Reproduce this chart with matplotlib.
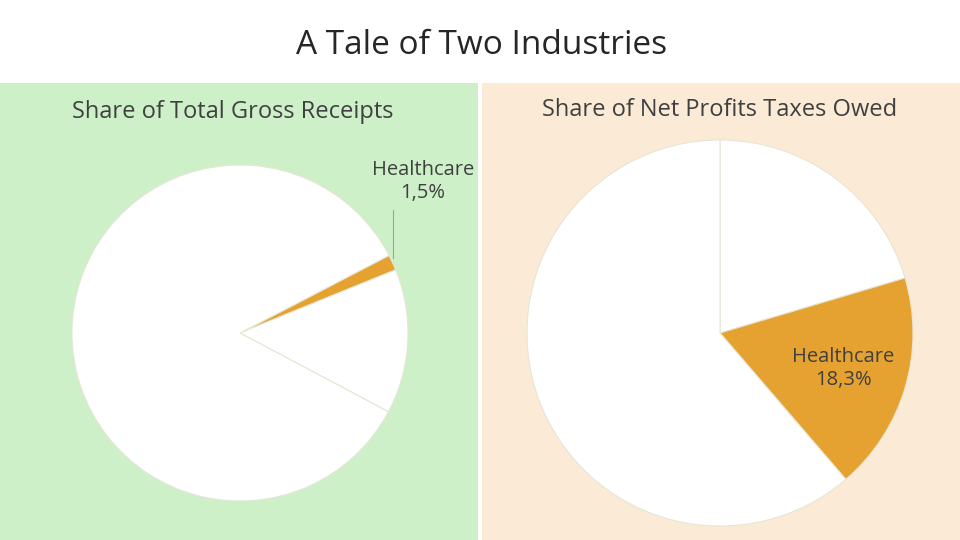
import matplotlib.pyplot as plt
from matplotlib.patches import Rectangle

plt.rcParams['font.family'] = ['Open Sans', 'DejaVu Sans']

gross_labels = ['Healthcare', 'Other industry', 'Rest']
gross_share = [1.5, 13.9, 84.6]
taxes_labels = ['Other industry', 'Healthcare', 'Rest']
taxes_share = [20.4, 18.3, 61.3]

orange = '#E5A230'
green_bg = '#CDF0C8'
beige_bg = '#FBEAD5'
edge = '#E6E6D6'

W, H = 960, 540
fig = plt.figure(figsize=(9.6, 5.4), dpi=100)
fig.patch.set_facecolor('white')

# panel backgrounds
fig.add_artist(Rectangle((0, 0), 478 / W, (540 - 83) / H, transform=fig.transFigure,
                         facecolor=green_bg, edgecolor='none', zorder=0))
fig.add_artist(Rectangle((482 / W, 0), 478 / W, (540 - 83) / H, transform=fig.transFigure,
                         facecolor=beige_bg, edgecolor='none', zorder=0))

fig.text(482 / W, 1 - 45 / H, 'A Tale of Two Industries', ha='center', va='center',
         fontsize=24, color='#262626')
fig.text(233 / W, 1 - 112 / H, 'Share of Total Gross Receipts', ha='center', va='center',
         fontsize=17, color='#404040')
fig.text(720 / W, 1 - 110 / H, 'Share of Net Profits Taxes Owed', ha='center', va='center',
         fontsize=17, color='#404040')


def pie_axes(cx, cy, r):
    ax = fig.add_axes([(cx - r) / W, (H - cy - r) / H, 2 * r / W, 2 * r / H])
    ax.axis('off')
    return ax


def fix_limits(ax):
    ax.set_xlim(-1, 1)
    ax.set_ylim(-1, 1)
    ax.set_aspect('equal')


ax1 = pie_axes(240, 333, 168)
ax1.pie(gross_share, colors=[orange, 'white', 'white'], startangle=27.5, counterclock=False,
        radius=1, wedgeprops=dict(edgecolor=edge, linewidth=0.8))
fix_limits(ax1)

ax2 = pie_axes(720, 333, 193)
ax2.pie(taxes_share, colors=['white', orange, 'white'], startangle=90, counterclock=False,
        radius=1, wedgeprops=dict(edgecolor=edge, linewidth=0.8))
fix_limits(ax2)

# labels
fig.text(423 / W, 1 - 181 / H, 'Healthcare\n%s%%' % str(gross_share[0]).replace('.', ','),
         ha='center', va='center', fontsize=14.5, color='#404040', linespacing=1.2)
fig.add_artist(plt.Line2D([393 / W, 393 / W], [1 - 258 / H, 1 - 210 / H],
                          transform=fig.transFigure, color='#A0A0A0', linewidth=0.8))
fig.text(843 / W, 1 - 368 / H, 'Healthcare\n%s%%' % str(taxes_share[1]).replace('.', ','),
         ha='center', va='center', fontsize=14.5, color='#404040', linespacing=1.2)

fig.savefig('out.png', dpi=100)
